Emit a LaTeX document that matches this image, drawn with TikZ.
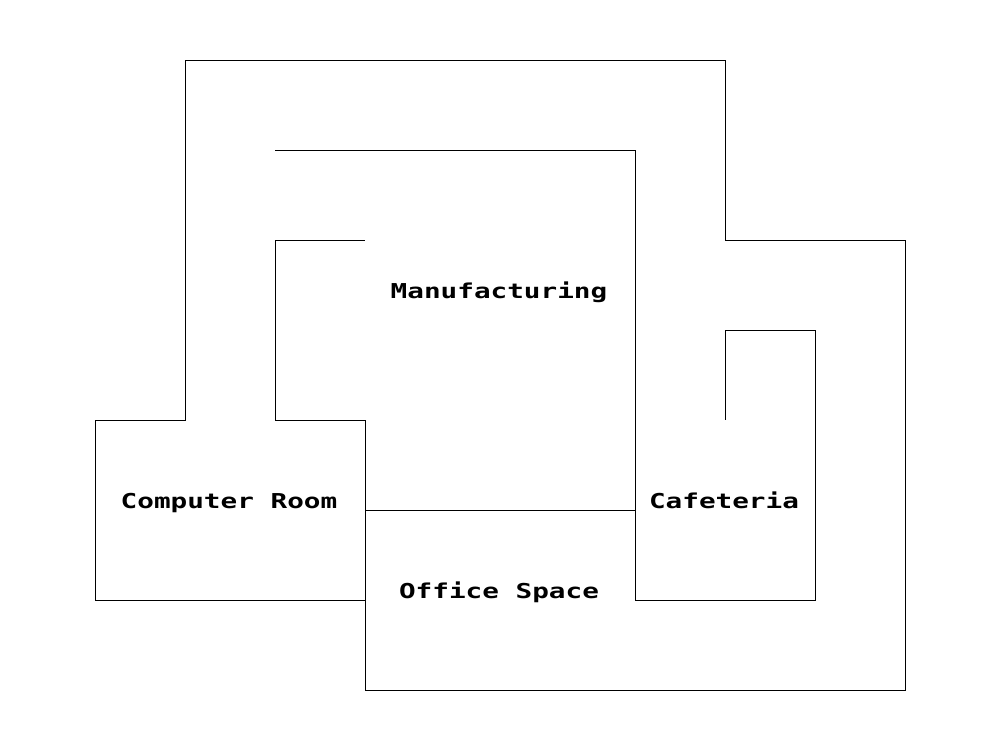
\documentclass[tikz,border=0pt]{standalone}
\usepackage{fontspec}
\newfontfamily\roomfont{DejaVu Sans Mono Bold}[FakeStretch=1.35]
\tikzset{
	roomlabel/.style={font=\roomfont\fontsize{17.5pt}{19pt}\selectfont, inner sep=0pt, anchor=base},
	wall/.style={line width=0.85pt, black}
}
\begin{document}
\begin{tikzpicture}[x=0.03cm, y=-0.03cm]
		\useasboundingbox[fill=white] (0, 0) rectangle (1000, 750);
		
		% outer walls
		\draw[wall] (365, 600) -- (95, 600) -- (95, 420) -- (185, 420) -- (185, 60) -- (725, 60) -- (725, 240) -- (905, 240) -- (905, 690) -- (365, 690) -- (365, 420) -- (275, 420) -- (275, 240) -- (365, 240);
		
		% inner walls
		\draw[wall] (275, 150) -- (635, 150) -- (635, 600) -- (815, 600) -- (815, 330) -- (725, 330) -- (725, 420);
		\draw[wall] (365, 510) -- (635, 510);
		
		\node[roomlabel] (manufacturing) at (499, 298) {Manufacturing};
		\node[roomlabel] (computerroom) at (229, 508) {Computer Room};
		\node[roomlabel] (cafeteria) at (724, 508) {Cafeteria};
		\node[roomlabel] (officespace) at (499, 598) {Office Space};
\end{tikzpicture}
\end{document}
